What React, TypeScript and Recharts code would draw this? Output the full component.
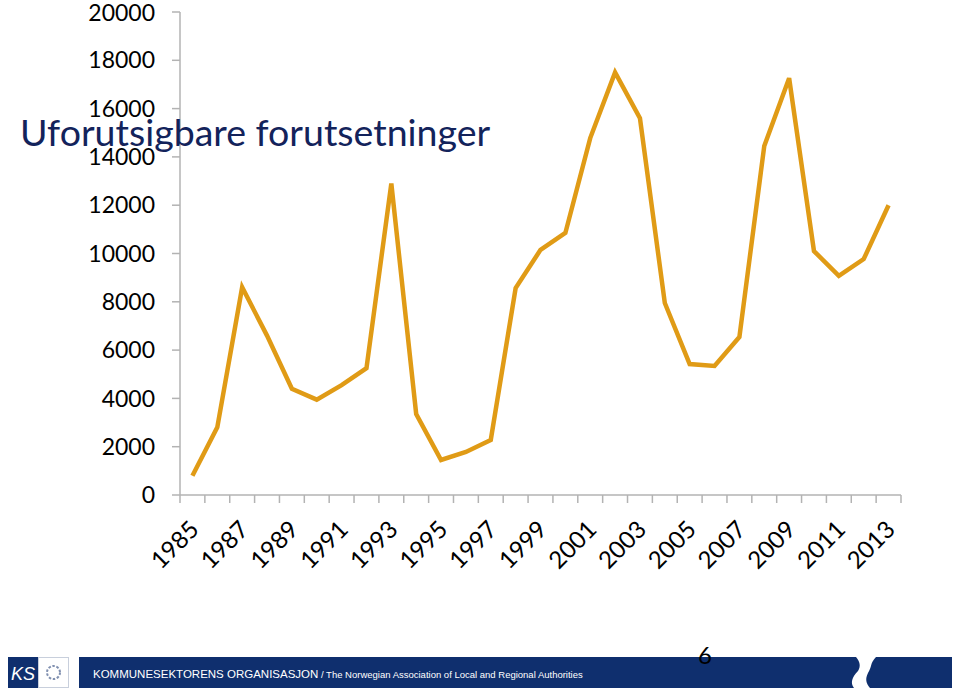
import { LineChart, Line, XAxis, YAxis } from "recharts"

const years = [
  "1985", "1986", "1987", "1988", "1989", "1990", "1991", "1992", "1993", "1994",
  "1995", "1996", "1997", "1998", "1999", "2000", "2001", "2002", "2003", "2004",
  "2005", "2006", "2007", "2008", "2009", "2010", "2011", "2012", "2013",
]
const values = [
  800, 2800, 8600, 6600, 4400, 3950, 4550, 5250, 12900, 3350,
  1450, 1780, 2280, 8570, 10150, 10850, 14780, 17500, 15600, 7950,
  5420, 5340, 6540, 14450, 17260, 10100, 9070, 9770, 12000,
]
const yTicks = [0, 2000, 4000, 6000, 8000, 10000, 12000, 14000, 16000, 18000, 20000]

const data = years.map((year, i) => ({ year, value: values[i] }))

const font = "Lato, 'Open Sans', sans-serif"
const axisGray = "#b3b3b3"
const navy = "#0f2f6e"
const plotLeft = 180
const plotRight = 59
const bandWidth = (960 - plotLeft - plotRight) / years.length

function YearTick(props: any) {
  const { x, y, payload, index } = props
  const half = bandWidth / 2
  const isLast = index === years.length - 1
  return (
    <g transform={`translate(${x},${y})`}>
      <line x1={-half} y1={0} x2={-half} y2={8} stroke={axisGray} strokeWidth={1.5} />
      {isLast && <line x1={half} y1={0} x2={half} y2={8} stroke={axisGray} strokeWidth={1.5} />}
      {index % 2 === 0 && (
        <text
          transform="translate(2,30) rotate(-45)"
          textAnchor="end"
          dy="0.35em"
          fontSize={24}
          fontFamily={font}
          fill="#000"
        >
          {payload.value}
        </text>
      )}
    </g>
  )
}

function Footer() {
  return (
    <svg width={960} height={50} style={{ position: "absolute", left: 0, top: 645 }}>
      <rect x={8} y={12} width={30} height={31} fill={navy} />
      <text x={23} y={35} textAnchor="middle" fill="#fff" fontSize={18} fontStyle="italic" fontFamily="'Liberation Sans', sans-serif">
        KS
      </text>
      <rect x={38.5} y={12.5} width={30} height={30} fill="#fff" stroke="#c8cfdc" />
      <circle cx={53.5} cy={27.5} r={6.5} fill="none" stroke="#8090b0" strokeWidth={2} strokeDasharray="2.5 1.6" />
      <rect x={79} y={12} width={873} height={31} fill={navy} />
      <path d="M856 12 L876 12 C870 18 872 22 868 28 C865 34 866 38 870 43 L854 43 C850 38 852 32 858 26 C861 21 860 17 856 12 Z" fill="#fff" />
      <text x={93} y={33} fill="#fff" fontSize={11.5} fontFamily="'Liberation Sans', sans-serif">
        KOMMUNESEKTORENS ORGANISASJON
        <tspan fontSize={9.5}> / The Norwegian Association of Local and Regional Authorities</tspan>
      </text>
    </svg>
  )
}

export default function App() {
  return (
    <div style={{ position: "absolute", left: 0, top: 0, width: 960, height: 699, background: "#fff" }}>
      <LineChart
        width={960}
        height={640}
        data={data}
        margin={{ top: 12, right: plotRight, bottom: 65, left: 0 }}
      >
        <XAxis
          dataKey="year"
          scale="band"
          interval={0}
          tickLine={false}
          tickSize={0}
          tickMargin={0}
          height={80}
          stroke={axisGray}
          strokeWidth={1.5}
          tick={<YearTick />}
        />
        <YAxis
          domain={[0, 20000]}
          ticks={yTicks}
          width={plotLeft}
          tickSize={8}
          tickMargin={17}
          stroke={axisGray}
          strokeWidth={1.5}
          tick={{ fill: "#000", fontSize: 23, fontFamily: font }}
        />
        <Line
          type="linear"
          dataKey="value"
          stroke="#e09b16"
          strokeWidth={4.5}
          dot={false}
          isAnimationActive={false}
        />
      </LineChart>
      <div
        style={{
          position: "absolute",
          left: 20,
          top: 109,
          fontFamily: font,
          fontSize: 37.5,
          color: "#13235b",
          whiteSpace: "nowrap",
        }}
      >
        Uforutsigbare forutsetninger
      </div>
      <Footer />
      <div style={{ position: "absolute", left: 698, top: 640, fontFamily: font, fontSize: 24, color: "#000" }}>
        6
      </div>
    </div>
  )
}
